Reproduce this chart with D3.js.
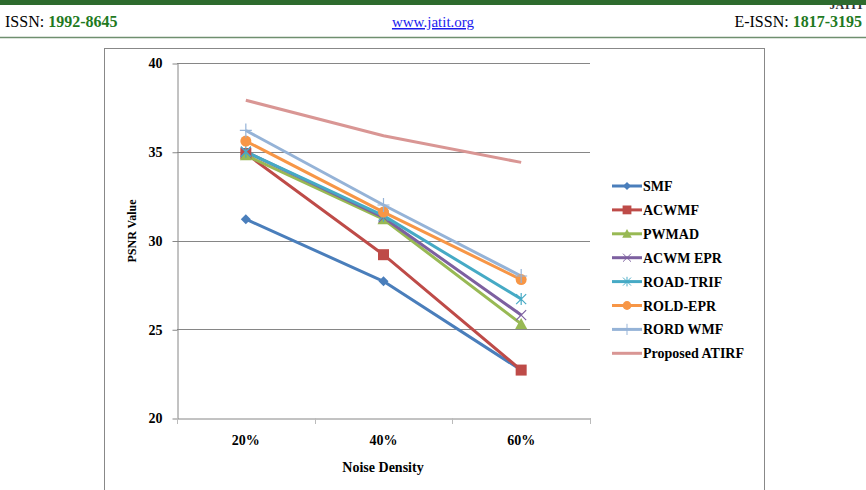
<!DOCTYPE html>
<html>
<head>
<meta charset="utf-8">
<script src="https://cdn.jsdelivr.net/npm/d3@7"></script>
<style>
  body { margin: 0; background: #fff; }
  svg { display: block; }
</style>
</head>
<body>
<div id="chart"></div>
<script>
// chart data
var categories = ["20%", "40%", "60%"];
var seriesNames = ["SMF", "ACWMF", "PWMAD", "ACWM EPR", "ROAD-TRIF", "ROLD-EPR", "RORD WMF", "Proposed ATIRF"];
var smf      = [31.2, 27.7, 22.7];
var acwmf    = [34.9, 29.2, 22.7];
var pwmad    = [34.8, 31.2, 25.3];
var acwmEpr  = [35.0, 31.3, 25.8];
var roadTrif = [35.0, 31.4, 26.7];
var roldEpr  = [35.6, 31.6, 27.8];
var rordWmf  = [36.2, 32.0, 28.0];
var atirf    = [37.9, 35.9, 34.4];
var yTicks = [20, 25, 30, 35, 40];

var seriesValues = [smf, acwmf, pwmad, acwmEpr, roadTrif, roldEpr, rordWmf, atirf];
var colors = ["#4a7ebb", "#be4b48", "#98b954", "#7d60a0", "#46aac5", "#f79646", "#95b3d7", "#d99694"];
var markers = ["diamond", "square", "triangle", "x", "asterisk", "circle", "plus", "none"];

var W = 866, H = 490;
var svg = d3.select("#chart").append("svg")
    .attr("width", W)
    .attr("height", H);

// page header
svg.append("rect").attr("x", 0).attr("y", 0).attr("width", W).attr("height", 5).style("fill", "#2e6b2e");
svg.append("text").attr("x", 864).attr("y", 9).attr("text-anchor", "end")
    .style("font", "bold 12px 'Liberation Serif'").style("fill", "#333").text("JATIT");
svg.append("rect").attr("x", 0).attr("y", 0).attr("width", W).attr("height", 5).style("fill", "#2e6b2e");
svg.append("line").attr("x1", 0).attr("x2", W).attr("y1", 37.5).attr("y2", 37.5)
    .style("stroke", "#6f8f6f").style("stroke-width", 1.5);

var head = svg.append("text").attr("x", 5).attr("y", 27).style("font", "16px 'Liberation Serif'");
head.append("tspan").style("fill", "#000").text("ISSN: ");
head.append("tspan").style("fill", "#1f7a1f").style("font-weight", "bold").text("1992-8645");

svg.append("text").attr("x", 433).attr("y", 27).attr("text-anchor", "middle")
    .style("font", "15px 'Liberation Serif'").style("fill", "#1a1aee")
    .style("text-decoration", "underline").text("www.jatit.org");

var head2 = svg.append("text").attr("x", 862).attr("y", 27).attr("text-anchor", "end").style("font", "16px 'Liberation Serif'");
head2.append("tspan").style("fill", "#000").text("E-ISSN: ");
head2.append("tspan").style("fill", "#1f7a1f").style("font-weight", "bold").text("1817-3195");

// chart frame
svg.append("rect").attr("x", 104.5).attr("y", 48.5).attr("width", 660).attr("height", 460)
    .style("fill", "none").style("stroke", "#888").style("stroke-width", 1);

// scales
var x = d3.scaleBand().domain(categories).range([177, 590]).padding(0);
var y = d3.scaleLinear().domain([20, 40]).range([418, 63]);
function cx(c) { return x(c) + x.bandwidth() / 2; }

// gridlines
svg.append("g").selectAll("line").data(yTicks.slice(1)).enter().append("line")
    .attr("x1", 177).attr("x2", 590)
    .attr("y1", function(d) { return Math.round(y(d)) + 0.5; })
    .attr("y2", function(d) { return Math.round(y(d)) + 0.5; })
    .style("stroke", "#868686").style("stroke-width", 1);

// y axis
var yAxis = svg.append("g")
    .attr("transform", "translate(177.5,0.5)")
    .call(d3.axisLeft(y).tickValues(yTicks).tickSize(5).tickPadding(10).tickSizeOuter(0));
yAxis.select(".domain").style("stroke", "#868686");
yAxis.selectAll(".tick line").style("stroke", "#868686");
yAxis.selectAll(".tick text").style("font", "bold 14px 'Liberation Serif'").style("fill", "#000");

// x axis
var xAxis = svg.append("g")
    .attr("transform", "translate(0,418.5)")
    .call(d3.axisBottom(x).tickSize(0).tickPadding(17));
xAxis.select(".domain").style("stroke", "#868686");
xAxis.selectAll(".tick text").style("font", "bold 14px 'Liberation Serif'").style("fill", "#000");
// category boundary ticks
svg.append("g").selectAll("line").data(categories.concat(["end"])).enter().append("line")
    .attr("x1", function(d, i) { return Math.round(177 + i * x.bandwidth()) + 0.5; })
    .attr("x2", function(d, i) { return Math.round(177 + i * x.bandwidth()) + 0.5; })
    .attr("y1", 418).attr("y2", 424)
    .style("stroke", "#bbb");

// axis titles
svg.append("text").attr("x", 383).attr("y", 472).attr("text-anchor", "middle")
    .style("font", "bold 14px 'Liberation Serif'").text("Noise Density");
svg.append("text").attr("transform", "translate(136,231) rotate(-90)").attr("text-anchor", "middle")
    .style("font", "bold 12px 'Liberation Serif'").text("PSNR Value");

// marker drawing
function drawMarker(g, type, color) {
  if (type === "diamond") {
    g.append("path").attr("d", "M0,-5L5,0L0,5L-5,0Z").style("fill", color);
  } else if (type === "square") {
    g.append("rect").attr("x", -5.5).attr("y", -5.5).attr("width", 11).attr("height", 11).style("fill", color);
  } else if (type === "triangle") {
    g.append("path").attr("d", "M0,-6L6,5L-6,5Z").style("fill", color);
  } else if (type === "x") {
    g.append("path").attr("d", "M-5,-5L5,5M-5,5L5,-5").style("stroke", color).style("stroke-width", 1.2);
  } else if (type === "asterisk") {
    g.append("path").attr("d", "M-5,-5L5,5M-5,5L5,-5M0,-6L0,6").style("stroke", color).style("stroke-width", 1.2);
  } else if (type === "circle") {
    g.append("circle").attr("r", 5.5).style("fill", color);
  } else if (type === "plus") {
    g.append("path").attr("d", "M-6,0L6,0M0,-7L0,7").style("stroke", color).style("stroke-width", 1.2);
  }
}

var line = d3.line()
    .x(function(d, i) { return cx(categories[i]); })
    .y(function(d) { return y(d); });

// series lines
seriesValues.forEach(function(vals, s) {
  svg.append("path")
      .datum(vals)
      .attr("d", line)
      .style("fill", "none")
      .style("stroke", colors[s])
      .style("stroke-width", 3)
      .style("stroke-linejoin", "round");
});
// markers on top
seriesValues.forEach(function(vals, s) {
  vals.forEach(function(v, i) {
    var g = svg.append("g").attr("transform", "translate(" + cx(categories[i]) + "," + y(v) + ")");
    drawMarker(g, markers[s], colors[s]);
  });
});

// legend
var legend = svg.append("g").attr("transform", "translate(612,186)");
seriesNames.forEach(function(name, s) {
  var row = legend.append("g").attr("transform", "translate(0," + (s * 23.9) + ")");
  row.append("line").attr("x1", 0).attr("x2", 30).attr("y1", 0).attr("y2", 0)
      .style("stroke", colors[s]).style("stroke-width", 3);
  var m = row.append("g").attr("transform", "translate(15,0) scale(0.8)");
  drawMarker(m, markers[s], colors[s]);
  row.append("text").attr("x", 31).attr("y", 5)
      .style("font", "bold 14px 'Liberation Serif'").style("fill", "#000").text(name);
});
</script>
</body>
</html>
